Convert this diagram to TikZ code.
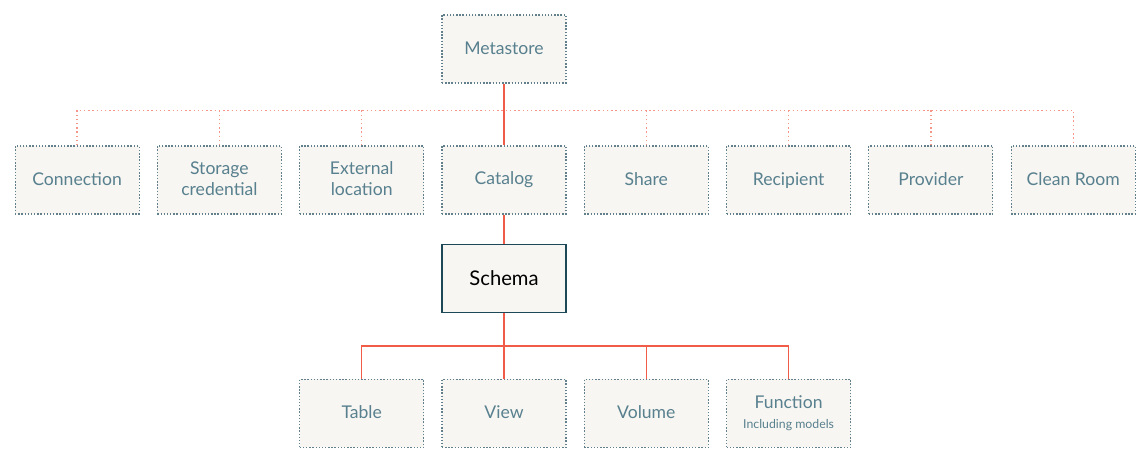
\documentclass[tikz,border=0pt]{standalone}
\usepackage{fontspec}
\setmainfont{Lato}
\usepackage{tikz}
\usetikzlibrary{positioning,calc}
\definecolor{boxfill}{RGB}{247, 246, 242}
\definecolor{boxedge}{RGB}{98, 128, 140}
\definecolor{labelteal}{RGB}{88, 128, 142}
\definecolor{schemaedge}{RGB}{28, 72, 88}
\definecolor{linkred}{RGB}{240, 92, 72}
\definecolor{softred}{RGB}{246, 150, 136}
\newcommand{\evenline}{\rule[-1.5pt]{0pt}{9pt}}

\begin{document}
\begin{tikzpicture}[
  node distance=0.345cm,
  objbox/.style={rectangle, draw=boxedge, fill=boxfill, line width=0.6pt, dash pattern=on 0.8pt off 1pt, minimum width=2.48cm, minimum height=1.36cm, align=center, text=labelteal, font=\fontsize{10}{12}\selectfont, execute at begin node=\evenline, execute at end node=\evenline},
  schemabox/.style={rectangle, draw=schemaedge, fill=boxfill, line width=0.8pt, minimum width=2.48cm, minimum height=1.36cm, align=center, font=\fontsize{11.5}{14}\selectfont},
  trunk/.style={line width=0.8pt, color=linkred},
  branch/.style={line width=0.7pt, color=softred, dash pattern=on 0.8pt off 1.6pt}
]
\useasboundingbox (0,0) rectangle (22.96,-9.24);

\node[objbox] (meta) at (10.08,-0.98) {Metastore};

\node[objbox] (cat) at (10.08,-3.60) {Catalog};
\node[objbox, left=of cat] (ext) {External\\location};
\node[objbox, left=of ext] (stor) {Storage\\credential};
\node[objbox, left=of stor] (conn) {Connection};
\node[objbox, right=of cat] (share) {Share};
\node[objbox, right=of share] (recip) {Recipient};
\node[objbox, right=of recip] (prov) {Provider};
\node[objbox, right=of prov] (clean) {Clean Room};

\node[schemabox, below=0.58cm of cat] (schema) {Schema};

\node[objbox, below=1.32cm of schema] (view) {View};
\node[objbox, left=of view] (table) {Table};
\node[objbox, right=of view] (vol) {Volume};
\node[objbox, right=of vol] (func) {Function\\[-1pt]{\fontsize{7}{8}\selectfont Including models}};

% top level fan-out
\coordinate (bus) at ($(meta.south)!0.43!(cat.north)$);
\draw[branch] (conn.north) |- (bus) -| (clean.north);
\foreach \n in {stor,ext,share,recip,prov}
  \draw[branch] (\n.north) -- (\n.north |- bus);
\draw[trunk] (meta) -- (cat);
\draw[trunk] (cat) -- (schema);

% schema children
\coordinate (split) at ($(schema.south)!0.5!(view.north)$);
\draw[trunk] (schema) -- (view);
\draw[trunk] (table.north) |- (split) -| (func.north);
\draw[trunk] (vol.north) -- (vol.north |- split);
\end{tikzpicture}
\end{document}
